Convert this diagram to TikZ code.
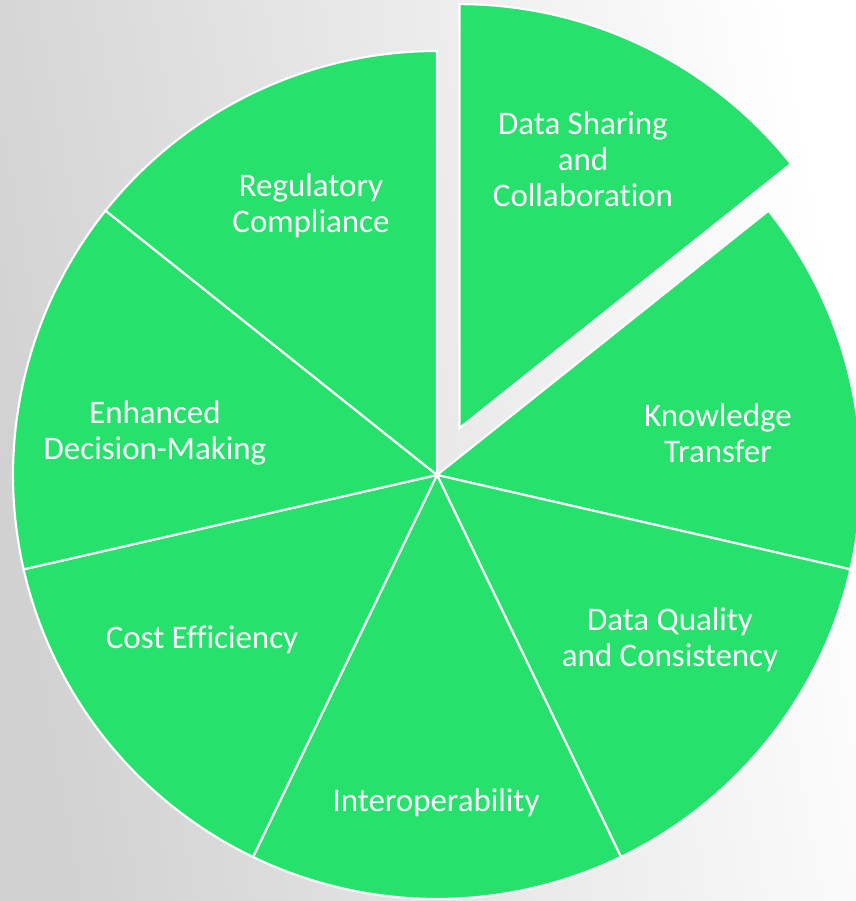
\documentclass[tikz,border=0pt]{standalone}
\usepackage{fontspec}
\setmainfont{Carlito}[Ligatures=NoCommon]
\usetikzlibrary{calc}
\definecolor{piegreen}{HTML}{26E16B}
\tikzset{slice/.style={fill=piegreen, draw=white, line width=1.6pt, line join=miter},
	slicetext/.style={font=\fontsize{24.7}{27}\selectfont, text=white, align=center}}

\begin{document}
\begin{tikzpicture}[x=0.75pt, y=0.75pt]
	% background
	\useasboundingbox (0,0) rectangle (856,901);
	\clip (0,0) rectangle (856,901);
	\shade[left color=black!18, right color=white, shading angle=100] (0,0) rectangle (856,901);
	
	\coordinate (c) at (437,426);
	
	% six slices in place
	\foreach \i in {1,...,6}
		\draw[slice] (c) -- ++({90-\i*360/7}:424)
			arc[start angle={90-\i*360/7}, end angle={90-(\i+1)*360/7}, radius=424] -- cycle;
	
	% pulled out slice
	\coordinate (c0) at ($(c)+(64.29:52)$);
	\draw[slice] (c0) -- ++(90:424) arc[start angle=90, end angle=38.57, radius=424] -- cycle;
	
	\node[slicetext] (sharing) at (583,742) {Data Sharing\\and\\Collaboration};
	\node[slicetext] (knowledge) at (718,468) {Knowledge\\Transfer};
	\node[slicetext] (quality) at (670,261) {Data Quality\\and Consistency};
	\node[slicetext] (interop) at (436,98) {Interoperability};
	\node[slicetext] (cost) at (202,261) {Cost Efficiency};
	\node[slicetext] (decision) at (155,468) {Enhanced\\Decision-Making};
	\node[slicetext] (regulatory) at (311,695) {Regulatory\\Compliance};
\end{tikzpicture}
\end{document}
